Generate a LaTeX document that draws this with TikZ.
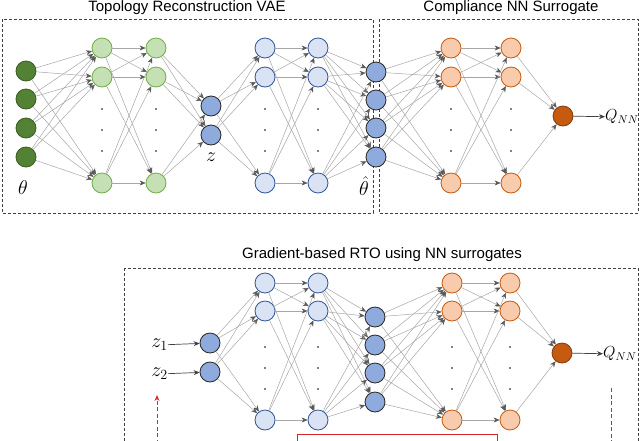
\documentclass[tikz,border=0pt]{standalone}
\usepackage{fix-cm}
\usepackage{fontspec}
\setmainfont{Liberation Sans}
\usetikzlibrary{arrows.meta}

\definecolor{thetagreen}{HTML}{548235}
\definecolor{thetaline}{HTML}{3A5A24}
\definecolor{encgreen}{HTML}{C5E0B4}
\definecolor{encline}{HTML}{70AD47}
\definecolor{latblue}{HTML}{8FAADC}
\definecolor{decblue}{HTML}{DAE3F3}
\definecolor{decline}{HTML}{2F5597}
\definecolor{surrorange}{HTML}{F8CBAD}
\definecolor{surrline}{HTML}{C55A11}
\definecolor{outorange}{HTML}{C55A11}
\definecolor{outline}{HTML}{843C0C}
\definecolor{rtored}{HTML}{D62728}

\begin{document}
\begin{tikzpicture}[x=1pt, y=-1pt,
    neuron/.style={circle, line width=0.8pt, minimum size=20pt, inner sep=0pt},
    thetanode/.style={neuron, draw=thetaline, fill=thetagreen},
    encnode/.style={neuron, draw=encline, fill=encgreen},
    latnode/.style={neuron, draw=black!85, fill=latblue},
    decnode/.style={neuron, draw=decline, fill=decblue},
    surrnode/.style={neuron, draw=surrline, fill=surrorange},
    outnode/.style={neuron, draw=outline, fill=outorange},
    edge/.style={draw=black!35, line width=0.5pt, -{Stealth[length=6pt, width=5pt, color=black!65]}},
    sigedge/.style={draw=black!75, line width=0.7pt, -{Stealth[length=6pt, width=5pt]}},
    panel/.style={draw=black!75, line width=0.7pt, dash pattern=on 3pt off 2pt},
    title/.style={font=\fontsize{15}{18}\selectfont},
    mathlabel/.style={font=\fontsize{20}{24}\selectfont, inner sep=0pt},
    qlabel/.style={font=\fontsize{16}{19}\selectfont, inner sep=0pt, anchor=west}
]
    \path[use as bounding box] (0,0) rectangle (640,440);
    \clip (0,0) rectangle (640,440);

    % panels
    \draw[panel] (2,19) rectangle (373,213);
    \draw[panel] (379,19) rectangle (638,213);
    \draw[panel] (124,268) rectangle (638,460);
    \node[title] (vaetitle) at (187,8) {Topology Reconstruction VAE};
    \node[title] (surrtitle) at (511,8) {Compliance NN Surrogate};
    \node[title] (rtotitle) at (382,255) {Gradient-based RTO using NN surrogates};

    % top: VAE + surrogate
    \foreach \y [count=\i] in {71,99,128,157} \node[thetanode] (in\i) at (26,\y) {};
    \foreach \y [count=\i] in {48,77,183} {
        \node[encnode] (ga\i) at (102,\y) {};
        \node[encnode] (gb\i) at (156,\y) {};
        \node[decnode] (da\i) at (265,\y) {};
        \node[decnode] (db\i) at (318,\y) {};
        \node[surrnode] (ca\i) at (451,\y) {};
        \node[surrnode] (cb\i) at (511,\y) {};
    }
    \foreach \y [count=\i] in {106,135} \node[latnode] (z\i) at (211,\y) {};
    \foreach \y [count=\i] in {72,100,128,157} \node[latnode] (th\i) at (376,\y) {};
    \node[outnode] (q) at (563,116) {};
    \node[qlabel] (qnn) at (605,117) {$Q_{NN}$};
    \node[mathlabel] (thetalbl) at (23,188) {$\theta$};
    \node[mathlabel] (zlbl) at (211,157) {$z$};
    \node[mathlabel] (thetahatlbl) at (364,186) {$\hat{\theta}$};

    % bottom: RTO
    \foreach \y [count=\i] in {283,311,420} {
        \node[decnode] (bda\i) at (265,\y) {};
        \node[decnode] (bdb\i) at (318,\y) {};
        \node[surrnode] (bca\i) at (452,\y) {};
        \node[surrnode] (bcb\i) at (510,\y) {};
    }
    \foreach \y [count=\i] in {343,372} {
        \node[latnode] (bz\i) at (210,\y) {};
        \node[mathlabel, anchor=east] (zin\i) at (168,\y+2) {$z_{\i}$};
    }
    \foreach \y [count=\i] in {317,345,373,402} \node[latnode] (bth\i) at (375,\y) {};
    \node[outnode] (bq) at (562,353) {};
    \node[qlabel] (bqnn) at (603,354) {$Q_{NN}$};

    % dots in hidden layers
    \foreach \x in {102,156,265,318,451,511}
        \foreach \y in {109,130,151} \fill (\x,\y) circle (0.9pt);
    \foreach \x in {265,318,452,510}
        \foreach \y in {347,368,389} \fill (\x,\y) circle (0.9pt);

    % connections, top
    \foreach \a in {in1,in2,in3,in4} \foreach \b in {ga1,ga2,ga3} \draw[edge] (\a) -- (\b);
    \foreach \a in {ga1,ga2,ga3} \foreach \b in {gb1,gb2,gb3} \draw[edge] (\a) -- (\b);
    \foreach \a in {gb1,gb2,gb3} \foreach \b in {z1,z2} \draw[edge] (\a) -- (\b);
    \foreach \a in {z1,z2} \foreach \b in {da1,da2,da3} \draw[edge] (\a) -- (\b);
    \foreach \a in {da1,da2,da3} \foreach \b in {db1,db2,db3} \draw[edge] (\a) -- (\b);
    \foreach \a in {db1,db2,db3} \foreach \b in {th1,th2,th3,th4} \draw[edge] (\a) -- (\b);
    \foreach \a in {th1,th2,th3,th4} \foreach \b in {ca1,ca2,ca3} \draw[edge] (\a) -- (\b);
    \foreach \a in {ca1,ca2,ca3} \foreach \b in {cb1,cb2,cb3} \draw[edge] (\a) -- (\b);
    \foreach \a in {cb1,cb2,cb3} \draw[edge] (\a) -- (q);
    \draw[sigedge] (q) -- (qnn);

    % connections, bottom
    \foreach \i in {1,2} \draw[sigedge] (zin\i) -- (bz\i);
    \foreach \a in {bz1,bz2} \foreach \b in {bda1,bda2,bda3} \draw[edge] (\a) -- (\b);
    \foreach \a in {bda1,bda2,bda3} \foreach \b in {bdb1,bdb2,bdb3} \draw[edge] (\a) -- (\b);
    \foreach \a in {bdb1,bdb2,bdb3} \foreach \b in {bth1,bth2,bth3,bth4} \draw[edge] (\a) -- (\b);
    \foreach \a in {bth1,bth2,bth3,bth4} \foreach \b in {bca1,bca2,bca3} \draw[edge] (\a) -- (\b);
    \foreach \a in {bca1,bca2,bca3} \foreach \b in {bcb1,bcb2,bcb3} \draw[edge] (\a) -- (\b);
    \foreach \a in {bcb1,bcb2,bcb3} \draw[edge] (\a) -- (bq);
    \draw[sigedge] (bq) -- (bqnn);

    % optimisation loop (cut off at the page edge)
    \coordinate (loopin) at (157,395);
    \coordinate (loopinend) at (157,450);
    \coordinate (loopout) at (611,388);
    \coordinate (loopoutend) at (611,450);
    \draw[rtored, line width=0.8pt, dash pattern=on 4pt off 2.5pt, -{Stealth[length=6pt, width=5pt]}] (loopinend) -- (loopin);
    \draw[rtored, line width=0.8pt, dash pattern=on 4pt off 2.5pt] (loopout) -- (loopoutend);
    \draw[rtored, line width=0.8pt] (297,434) rectangle (497,470);
\end{tikzpicture}
\end{document}
